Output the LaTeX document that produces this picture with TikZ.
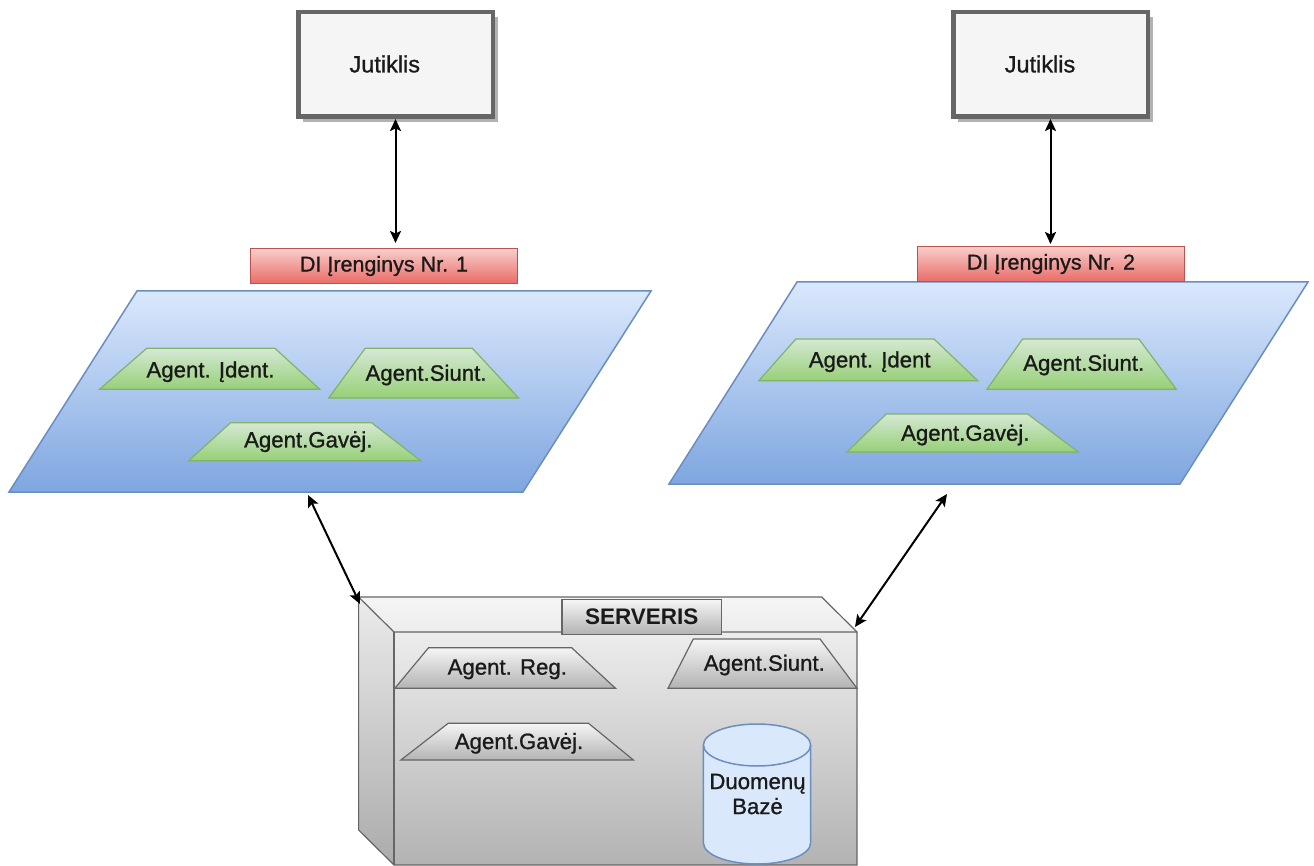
\documentclass[tikz,border=0pt]{standalone}
\usepackage{fontspec}
\setmainfont{Liberation Sans}
\newfontfamily\lblfont{Liberation Sans}[FakeBold=1]
\usetikzlibrary{arrows.meta,shadows}

\definecolor{jutFill}{HTML}{F5F5F5}
\definecolor{jutLine}{HTML}{666666}
\definecolor{redTop}{HTML}{F8CECC}
\definecolor{redBot}{HTML}{EA6B66}
\definecolor{redLine}{HTML}{B85450}
\definecolor{blueTop}{HTML}{DAE8FC}
\definecolor{blueBot}{HTML}{7EA6E0}
\definecolor{blueLine}{HTML}{6C8EBF}
\definecolor{greenTop}{HTML}{D5E8D4}
\definecolor{greenBot}{HTML}{97D077}
\definecolor{greenLine}{HTML}{82B366}
\definecolor{grayTop}{HTML}{F5F5F5}
\definecolor{grayBot}{HTML}{B3B3B3}
\definecolor{grayLine}{HTML}{666666}
\definecolor{ink}{HTML}{1A1A1A}

\tikzset{
  txt/.style={font=\lblfont\fontsize{22.2}{25}\selectfont, text=ink, inner sep=0pt},
  bigtxt/.style={font=\lblfont\fontsize{23.5}{25}\selectfont, text=ink, inner sep=0pt},
  sensor/.style={draw=jutLine, fill=jutFill, line width=4.5pt,
    minimum width=194.5pt, minimum height=104.5pt, inner sep=0pt,
    drop shadow={shadow xshift=5pt, shadow yshift=-5pt, fill=black!30, opacity=1}},
  device/.style={draw=redLine, line width=1.2pt, top color=redTop, bottom color=redBot,
    minimum width=266.8pt, minimum height=34.8pt, inner sep=0pt,
    font=\lblfont\fontsize{21.5}{25}\selectfont, text=ink},
  plane/.style={draw=blueLine, line width=1.5pt, top color=blueTop, bottom color=blueBot},
  agentG/.style={draw=greenLine, line width=1.2pt, top color=greenTop, bottom color=greenBot},
  agentS/.style={draw=grayLine, line width=1.2pt, top color=grayTop, bottom color=grayBot},
  title/.style={draw=grayLine, line width=1.2pt, top color=grayTop, bottom color=grayBot,
    minimum width=159.4pt, minimum height=34.8pt, inner sep=0pt,
    font=\fontsize{22.5}{25}\selectfont\bfseries, text=ink},
  conn/.style={line width=2pt,
    {Stealth[length=12pt,width=11pt,inset=2.5pt]}-{Stealth[length=12pt,width=11pt,inset=2.5pt]}},
}

\begin{document}
\begin{tikzpicture}[x=1pt,y=-1pt]
\useasboundingbox (0,0) rectangle (1314,866);

% ---------- sensors ----------
\node[sensor] (jut1) at (395.5,64.5) {};
\node[sensor] (jut2) at (1050.5,64.5) {};
\node[bigtxt] (jut1lbl) at (384.8,64) {Jutiklis};
\node[bigtxt] (jut2lbl) at (1040,64) {Jutiklis};

% ---------- device planes ----------
\path[plane] (137,291) -- (651,291) -- (523,492) -- (9,492) -- cycle;
\path[plane] (797,282) -- (1308,282) -- (1180,484) -- (669,484) -- cycle;

\node[device] (dev1) at (384,266) {DI Įrenginys Nr. 1};
\node[device] (dev2) at (1051,264) {DI Įrenginys Nr. 2};

% agents of device 1
\path[agentG] (146.7,348.3) -- (274.9,348.3) -- (319.8,389.3) -- (99.6,389.3) -- cycle;
\node[txt] (a1ident) at (210.5,371.7) {Agent. Įdent.};
\path[agentG] (365.2,348.3) -- (472.4,348.3) -- (518.6,398) -- (328.7,398) -- cycle;
\node[txt] (a1siunt) at (426,375) {Agent.Siunt.};
\path[agentG] (230.7,422.7) -- (371.5,422.7) -- (420.7,460.7) -- (188.7,460.7) -- cycle;
\node[txt] (a1gavej) at (308.3,441.7) {Agent.Gavėj.};

% agents of device 2
\path[agentG] (795.8,339) -- (934,339) -- (977.7,380.7) -- (758.8,380.7) -- cycle;
\node[txt] (a2ident) at (869.7,361.7) {Agent. Įdent};
\path[agentG] (1022.6,339) -- (1138.9,339) -- (1176.3,389.3) -- (986.9,389.3) -- cycle;
\node[txt] (a2siunt) at (1083.7,365) {Agent.Siunt.};
\path[agentG] (886.3,414) -- (1027.6,414) -- (1078.3,452) -- (846.9,452) -- cycle;
\node[txt] (a2gavej) at (965.3,435) {Agent.Gavėj.};

% ---------- server cube ----------
\path[draw=grayLine, line width=1.2pt, top color=grayTop, bottom color=grayBot]
  (358.6,597) -- (821.7,597) -- (857,632) -- (857,865) -- (394,865) -- (358.6,830) -- cycle;
\fill[black, opacity=0.04] (358.6,597) -- (394,632) -- (394,865) -- (358.6,830) -- cycle;
\draw[grayLine, line width=1.2pt] (358.6,597) -- (394,632) -- (857,632);
\draw[grayLine, line width=1.2pt] (394,632) -- (394,865);

\node[title] (srvtitle) at (641.7,617) {SERVERIS};

\path[agentS] (428.6,647.7) -- (571.6,647.7) -- (615.5,688.3) -- (394.8,688.3) -- cycle;
\node[txt] (sreg) at (507.3,669.3) {Agent. Reg.};
\path[agentS] (693.3,639) -- (820,639) -- (857,688.3) -- (668,688.3) -- cycle;
\node[txt] (ssiunt) at (764.3,665) {Agent.Siunt.};
\path[agentS] (448.2,723.3) -- (588.5,723.3) -- (633.4,760) -- (400.9,760) -- cycle;
\node[txt] (sgavej) at (519,743.3) {Agent.Gavėj.};

% database cylinder
\path[draw=blueLine, fill=blueTop, line width=1.5pt]
  (703.4,745) -- (703.4,843)
  arc[start angle=180, end angle=360, x radius=53.6pt, y radius=21pt]
  -- (810.6,745)
  arc[start angle=0, end angle=180, x radius=53.6pt, y radius=21pt] -- cycle;
\draw[blueLine, line width=1.5pt] (703.4,745)
  arc[start angle=180, end angle=360, x radius=53.6pt, y radius=21pt];
\node[txt, align=center] (db) at (757.5,794) {Duomenų\\Bazė};

% ---------- connectors ----------
\coordinate (p1low) at (308,495);
\coordinate (srvNW) at (360,604);
\coordinate (p2low) at (947,494);
\coordinate (srvNE) at (855,627);

\draw[conn, shorten >=5pt] (jut1.south) -- (jut1.south |- dev1.north);
\draw[conn, shorten >=2pt] (jut2.south) -- (jut2.south |- dev2.north);
\draw[conn] (p1low) -- (srvNW);
\draw[conn] (p2low) -- (srvNE);
\end{tikzpicture}
\end{document}
